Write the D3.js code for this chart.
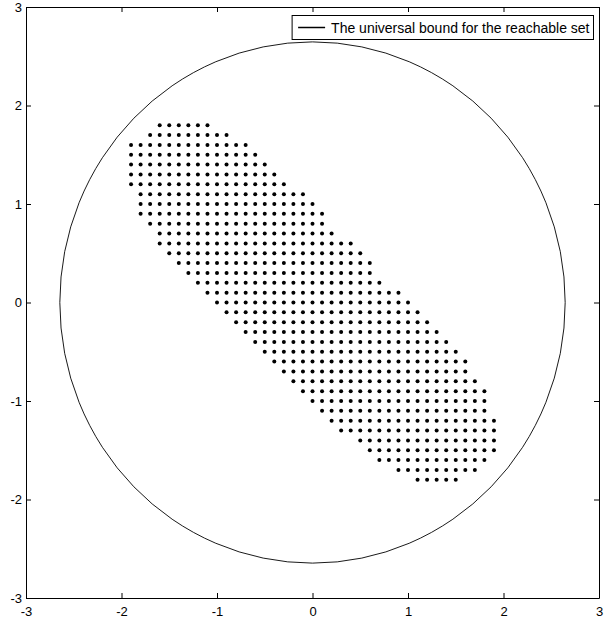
<!DOCTYPE html>
<html>
<head>
<meta charset="utf-8">
<script src="https://cdn.jsdelivr.net/npm/d3@7"></script>
<style>
  body { margin: 0; background: #fff; }
  text { font-family: Arial, "Liberation Sans", sans-serif; }
</style>
</head>
<body>
<svg id="chart" width="613" height="620"></svg>
<script>
// rows of the dot grid (y value) with the first and last x value read in each row
const rowY = [1.8, 1.7, 1.6, 1.5, 1.4, 1.3, 1.2, 1.1, 1.0, 0.9, 0.8, 0.7, 0.6, 0.5, 0.4, 0.3, 0.2, 0.1, 0.0,
  -0.1, -0.2, -0.3, -0.4, -0.5, -0.6, -0.7, -0.8, -0.9, -1.0, -1.1, -1.2, -1.3, -1.4, -1.5, -1.6, -1.7, -1.8];
const rowXMin = [-1.6, -1.7, -1.9, -1.9, -1.9, -1.9, -1.9, -1.8, -1.8, -1.8, -1.7, -1.6, -1.6, -1.5, -1.4, -1.3, -1.2, -1.1, -1.0,
  -0.9, -0.8, -0.7, -0.6, -0.5, -0.4, -0.3, -0.2, -0.1, 0.0, 0.1, 0.2, 0.3, 0.5, 0.6, 0.7, 0.9, 1.1];
const rowXMax = [-1.1, -0.9, -0.7, -0.6, -0.5, -0.4, -0.3, -0.1, 0.0, 0.1, 0.1, 0.2, 0.4, 0.5, 0.6, 0.6, 0.7, 0.9, 1.0,
  1.1, 1.2, 1.3, 1.4, 1.5, 1.6, 1.6, 1.7, 1.8, 1.8, 1.8, 1.9, 1.9, 1.9, 1.9, 1.8, 1.7, 1.5];
const gridStep = 0.1;
const boundRadius = 2.6458;
const xTicks = [-3, -2, -1, 0, 1, 2, 3];
const yTicks = [-3, -2, -1, 0, 1, 2, 3];
const legendLabel = 'The universal bound for the reachable set';

const svg = d3.select('#chart');
const margin = { top: 7, right: 14, bottom: 22, left: 26 };
const width = 613, height = 620;

const x = d3.scaleLinear().domain([-3, 3]).range([margin.left, width - margin.right]);
const y = d3.scaleLinear().domain([-3, 3]).range([height - margin.bottom, margin.top]);

// dots
const points = [];
rowY.forEach((ry, i) => {
  const n = Math.round((rowXMax[i] - rowXMin[i]) / gridStep);
  for (let k = 0; k <= n; k++) points.push([rowXMin[i] + k * gridStep, ry]);
});

svg.append('g').selectAll('circle')
  .data(points)
  .enter().append('circle')
  .attr('cx', d => x(d[0]))
  .attr('cy', d => y(d[1]))
  .attr('r', 2)
  .attr('fill', '#000');

// bound circle
svg.append('ellipse')
  .attr('cx', x(0))
  .attr('cy', y(0))
  .attr('rx', x(boundRadius) - x(0))
  .attr('ry', y(0) - y(boundRadius))
  .attr('fill', 'none')
  .attr('stroke', '#000')
  .attr('stroke-width', 0.9);

// axes, ticks pointing inward on all four sides
const fmt = d => String(d);
const axisStyle = g => {
  g.selectAll('path, line').attr('stroke', '#000');
  g.selectAll('text').attr('fill', '#000').attr('font-size', 13).attr('font-family', 'Arial, "Liberation Sans", sans-serif');
};

svg.append('g')
  .attr('transform', `translate(0,${y(-3)})`)
  .call(d3.axisBottom(x).tickValues(xTicks).tickFormat(fmt).tickSizeInner(-5).tickSizeOuter(0).tickPadding(9))
  .call(axisStyle);

svg.append('g')
  .attr('transform', `translate(${x(-3)},0)`)
  .call(d3.axisLeft(y).tickValues(yTicks).tickFormat(fmt).tickSizeInner(-5).tickSizeOuter(0).tickPadding(4))
  .call(axisStyle);

svg.append('g')
  .attr('transform', `translate(0,${y(3)})`)
  .call(d3.axisTop(x).tickValues(xTicks).tickFormat('').tickSizeInner(-5).tickSizeOuter(0))
  .call(axisStyle);

svg.append('g')
  .attr('transform', `translate(${x(3)},0)`)
  .call(d3.axisRight(y).tickValues(yTicks).tickFormat('').tickSizeInner(-5).tickSizeOuter(0))
  .call(axisStyle);

// legend
const legend = svg.append('g');
const legendRight = 593.5, legendTop = 15.5, legendH = 24;
const box = legend.append('rect');
const label = legend.append('text')
  .attr('x', legendRight - 4)
  .attr('y', legendTop + 17)
  .attr('text-anchor', 'end')
  .attr('font-size', 14)
  .text(legendLabel);
const tw = label.node().getComputedTextLength();
const textLeft = legendRight - 4 - tw;
legend.append('line')
  .attr('x1', textLeft - 33).attr('x2', textLeft - 6)
  .attr('y1', legendTop + 12).attr('y2', legendTop + 12)
  .attr('stroke', '#000').attr('stroke-width', 1.5);
box.attr('x', textLeft - 39).attr('y', legendTop)
  .attr('width', legendRight - (textLeft - 39)).attr('height', legendH)
  .attr('fill', '#fff').attr('stroke', '#000');
</script>
</body>
</html>
